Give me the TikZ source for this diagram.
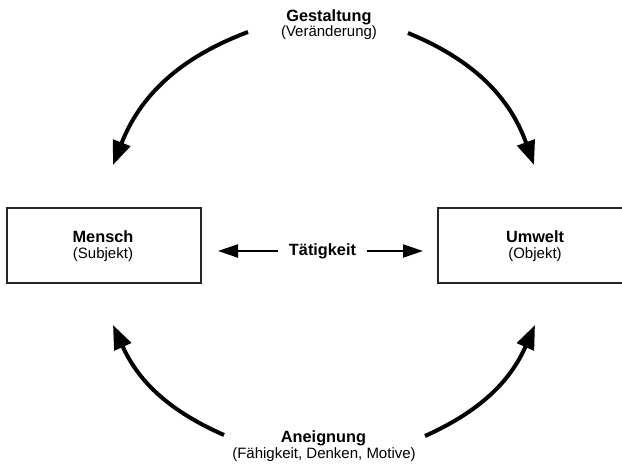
\documentclass[tikz,border=0pt]{standalone}
\usepackage{fontspec}
\setmainfont{Liberation Sans}
\usetikzlibrary{arrows.meta}
\begin{document}
\begin{tikzpicture}[x=1pt,y=-1pt,
  box/.style={draw=black!85, line width=1.4pt, minimum width=194pt, minimum height=75pt, inner sep=0pt},
  title/.style={font=\fontsize{16.3}{18}\selectfont\bfseries, inner sep=0pt},
  sub/.style={font=\fontsize{15}{18}\selectfont, inner sep=0pt},
  cycle/.style={line width=4pt, -{Triangle[length=24pt,width=18pt]}},
  link/.style={line width=2pt, -{Triangle[length=20pt,width=13pt]}}]
\clip (0,0) rectangle (622,466);
\useasboundingbox (0,0) rectangle (622,466);

% subject and object boxes
\node[box] (mensch) at (104,245.5) {};
\node[title] (menschT) at (103,237) {Mensch};
\node[sub] (menschS) at (103,255) {(Subjekt)};

\node[box] (umwelt) at (535,245.5) {};
\node[title] (umweltT) at (535,237) {Umwelt};
\node[sub] (umweltS) at (535,255) {(Objekt)};

% activity in the middle
\node[title, inner xsep=11pt] (taet) at (322.5,251) {Tätigkeit};
\coordinate (tl) at (218,251);
\coordinate (tr) at (423,251);
\draw[link] (taet.west) -- (tl);
\draw[link] (taet.east) -- (tr);

% top label
\node[title] (gest) at (329,17) {Gestaltung};
\node[sub] (gestS) at (329,33) {(Veränderung)};

% bottom label
\node[title] (aneig) at (323.5,438) {Aneignung};
\node[sub] (aneigS) at (324,455) {(Fähigkeit, Denken, Motive)};

% cycle arcs
\coordinate (a1) at (248,32);
\coordinate (a2) at (113,165);
\coordinate (b1) at (408,33);
\coordinate (b2) at (534,165);
\coordinate (c1) at (224,435);
\coordinate (c2) at (113,325);
\coordinate (d1) at (425,436);
\coordinate (d2) at (535,325);
\draw[cycle] (a1) to[bend right=24] (a2);
\draw[cycle] (b1) to[bend left=24] (b2);
\draw[cycle] (c1) to[bend left=21] (c2);
\draw[cycle] (d1) to[bend right=21] (d2);
\end{tikzpicture}
\end{document}
